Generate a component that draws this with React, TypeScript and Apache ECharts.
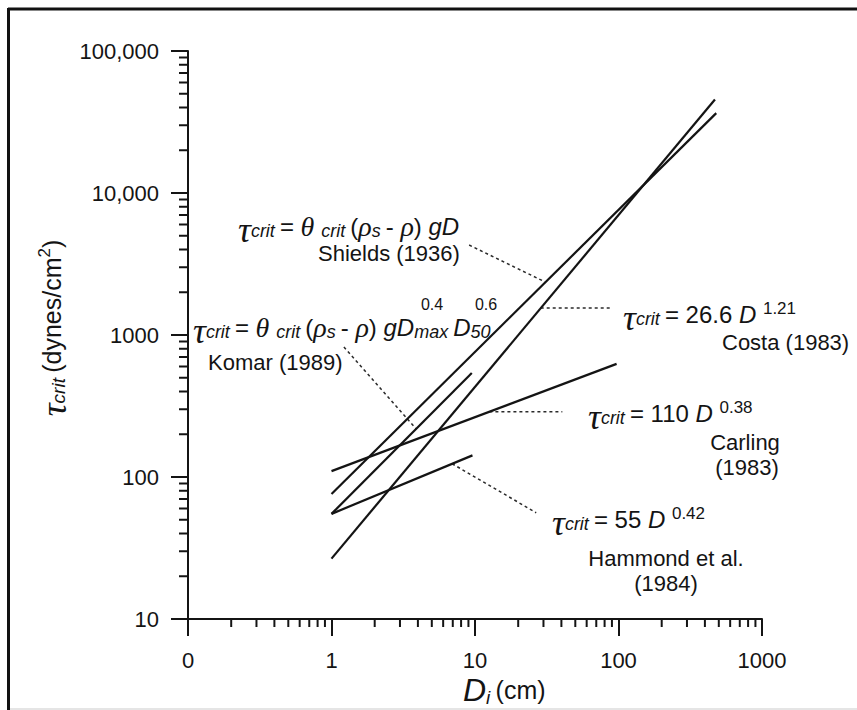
import React, { useEffect, useRef } from 'react';
import * as echarts from 'echarts';

// Axis ranges and tick labels
const X_MIN = 0.1;
const X_MAX = 1000;
const Y_MIN = 10;
const Y_MAX = 100000;
const xTickLabels = ['0', '1', '10', '100', '1000'];
const yTickLabels = ['10', '100', '1000', '10,000', '100,000'];

// Critical shear stress relations (D in cm, tau in dynes/cm^2)
const costaD = [1, 470];
const costaTau = [26.6, 45500];
const shieldsD = [1, 480];
const shieldsTau = [76, 36500];
const komarD = [1, 9.5];
const komarTau = [55, 540];
const hammondD = [1, 9.6];
const hammondTau = [55, 142];
const carlingD = [1, 97];
const carlingTau = [110, 626];

// Leader lines from each relation to its label
const shieldsLeaderD = [9.1, 31];
const shieldsLeaderTau = [4300, 2356];
const costaLeaderD = [28.7, 91];
const costaLeaderTau = [1550, 1550];
const komarLeaderD = [1.22, 3.9];
const komarLeaderTau = [824, 218];
const carlingLeaderD = [12.6, 40.6];
const carlingLeaderTau = [288, 288];
const hammondLeaderD = [6.93, 26.7];
const hammondLeaderTau = [124, 56];

const INK = '#141414';
const SANS = '"Liberation Sans", Arial, Helvetica, sans-serif';
const SERIF = '"Liberation Serif", "Times New Roman", serif';

const pairs = (xs: number[], ys: number[]) => xs.map((x, i) => [x, ys[i]]);

// log-axis minor tick values (2..9 in every decade)
const minorTicks = (lo: number, hi: number) => {
  const out: number[] = [];
  for (let d = lo; d < hi; d *= 10) {
    for (let k = 2; k <= 9; k++) out.push(+(d * k).toPrecision(6));
  }
  return out;
};
const xMinor = minorTicks(X_MIN, X_MAX);
const yMinor = minorTicks(Y_MIN, Y_MAX);

const rich: Record<string, any> = {
  t: { fontFamily: SERIF, fontStyle: 'italic', fontSize: 36, lineHeight: 22, verticalAlign: 'top', fill: INK },
  g: { fontFamily: SERIF, fontStyle: 'italic', fontSize: 28, lineHeight: 28, fill: INK },
  m: { fontFamily: SANS, fontSize: 24, lineHeight: 28, fill: INK },
  mi: { fontFamily: SANS, fontStyle: 'italic', fontSize: 24, lineHeight: 28, fill: INK },
  sb: { fontFamily: SANS, fontStyle: 'italic', fontSize: 18, lineHeight: 15, verticalAlign: 'bottom', fill: INK },
  sp: { fontFamily: SANS, fontSize: 17, lineHeight: 18, verticalAlign: 'top', fill: INK },
};

type Tok = [string, string];
const rt = (toks: Tok[]) => toks.map(([s, t]) => `{${s}|${t}}`).join('');

const eqText = (x: number, y: number, toks: Tok[]) => ({
  type: 'text',
  x,
  y,
  silent: true,
  style: {
    text: rt(toks),
    rich,
    align: 'left',
    textAlign: 'left',
    verticalAlign: 'middle',
    textVerticalAlign: 'middle',
  },
});

const plainText = (x: number, y: number, text: string, align: string, size = 22) => ({
  type: 'text',
  x,
  y,
  silent: true,
  style: {
    text,
    fill: INK,
    fontFamily: SANS,
    fontSize: size,
    align,
    textAlign: align,
    verticalAlign: 'middle',
    textVerticalAlign: 'middle',
  },
});

const curve = (name: string, xs: number[], ys: number[]) => ({
  name,
  type: 'line',
  data: pairs(xs, ys),
  symbol: 'none',
  silent: true,
  lineStyle: { color: INK, width: 2.2 },
  z: 3,
});

const leader = (name: string, xs: number[], ys: number[]) => ({
  name,
  type: 'line',
  data: pairs(xs, ys),
  symbol: 'none',
  silent: true,
  lineStyle: { color: '#2a2a2a', width: 1.5, type: [3, 3] },
  z: 2,
});

export default function App() {
  const ref = useRef<HTMLDivElement>(null);

  useEffect(() => {
    if (!ref.current) return;
    const chart = echarts.init(ref.current, null, { renderer: 'svg' });

    const option: any = {
      animation: false,
      backgroundColor: '#ffffff',
      grid: { left: 188, top: 51, width: 574, height: 568, containLabel: false },
      xAxis: {
        type: 'log',
        logBase: 10,
        min: X_MIN,
        max: X_MAX,
        splitNumber: 4,
        axisLine: { show: true, lineStyle: { color: INK, width: 2 } },
        axisTick: { show: true, inside: false, length: 17, lineStyle: { color: INK, width: 2 } },
        axisLabel: {
          show: true,
          margin: 30,
          fontSize: 22,
          fontFamily: SANS,
          color: INK,
          showMinLabel: true,
          showMaxLabel: true,
          formatter: (v: number) => xTickLabels[Math.round(Math.log10(v)) + 1] ?? '',
        },
        splitLine: { show: false },
      },
      yAxis: {
        type: 'log',
        logBase: 10,
        min: Y_MIN,
        max: Y_MAX,
        splitNumber: 4,
        axisLine: { show: true, lineStyle: { color: INK, width: 2 } },
        axisTick: { show: true, inside: false, length: 17, lineStyle: { color: INK, width: 2 } },
        axisLabel: {
          show: true,
          margin: 29,
          fontSize: 22,
          fontFamily: SANS,
          color: INK,
          showMinLabel: true,
          showMaxLabel: true,
          formatter: (v: number) => yTickLabels[Math.round(Math.log10(v)) - 1] ?? '',
        },
        splitLine: { show: false },
      },
      series: [
        curve('Costa (1983)', costaD, costaTau),
        curve('Shields (1936)', shieldsD, shieldsTau),
        curve('Komar (1989)', komarD, komarTau),
        curve('Hammond et al. (1984)', hammondD, hammondTau),
        curve('Carling (1983)', carlingD, carlingTau),
        leader('Shields label', shieldsLeaderD, shieldsLeaderTau),
        leader('Costa label', costaLeaderD, costaLeaderTau),
        leader('Komar label', komarLeaderD, komarLeaderTau),
        leader('Carling label', carlingLeaderD, carlingLeaderTau),
        leader('Hammond label', hammondLeaderD, hammondLeaderTau),
        {
          name: 'x minor ticks',
          type: 'custom',
          silent: true,
          clip: false,
          data: xMinor.map((v) => [v, Y_MIN]),
          renderItem: (_p: any, api: any) => {
            const pt = api.coord([api.value(0), Y_MIN]);
            return {
              type: 'line',
              shape: { x1: pt[0], y1: pt[1], x2: pt[0], y2: pt[1] + 8 },
              style: { stroke: INK, lineWidth: 2 },
            };
          },
        },
        {
          name: 'y minor ticks',
          type: 'custom',
          silent: true,
          clip: false,
          data: yMinor.map((v) => [X_MIN, v]),
          renderItem: (_p: any, api: any) => {
            const pt = api.coord([X_MIN, api.value(1)]);
            return {
              type: 'line',
              shape: { x1: pt[0] - 9, y1: pt[1], x2: pt[0], y2: pt[1] },
              style: { stroke: INK, lineWidth: 2 },
            };
          },
        },
      ],
      graphic: [
        // figure frame
        { type: 'line', silent: true, shape: { x1: 8, y1: 9, x2: 857, y2: 9 }, style: { stroke: '#111', lineWidth: 3 } },
        { type: 'line', silent: true, shape: { x1: 8.5, y1: 8, x2: 8.5, y2: 710 }, style: { stroke: '#111', lineWidth: 3 } },
        { type: 'line', silent: true, shape: { x1: 10, y1: 709, x2: 857, y2: 709 }, style: { stroke: '#dcdcdc', lineWidth: 1.5 } },

        // Shields
        eqText(238, 226, [
          ['t', 'τ'], ['sb', 'crit '], ['m', '= '], ['g', 'θ '], ['sb', 'crit '], ['m', '('], ['g', 'ρ'], ['sb', 's '],
          ['m', '- '], ['g', 'ρ'], ['m', ') '], ['mi', 'gD'],
        ]),
        plainText(318, 253, 'Shields (1936)', 'left'),

        // Komar
        eqText(193, 327, [
          ['t', 'τ'], ['sb', 'crit '], ['m', '= '], ['g', 'θ '], ['sb', 'crit '], ['m', '('], ['g', 'ρ'], ['sb', 's '],
          ['m', '- '], ['g', 'ρ'], ['m', ') '], ['mi', 'gD'], ['sb', 'max '], ['mi', 'D'], ['sb', '50'],
        ]),
        plainText(432, 304, '0.4', 'center', 16),
        plainText(486, 304, '0.6', 'center', 16),
        plainText(208, 362, 'Komar (1989)', 'left'),

        // Costa
        eqText(623, 314, [['t', 'τ'], ['sb', 'crit '], ['m', '= 26.6 '], ['mi', 'D '], ['sp', '1.21']]),
        plainText(722, 342, 'Costa (1983)', 'left'),

        // Carling
        eqText(588, 413, [['t', 'τ'], ['sb', 'crit '], ['m', '= 110 '], ['mi', 'D '], ['sp', '0.38']]),
        plainText(745, 442, 'Carling', 'center'),
        plainText(747, 467, '(1983)', 'center'),

        // Hammond
        eqText(552, 519, [['t', 'τ'], ['sb', 'crit '], ['m', '= 55 '], ['mi', 'D '], ['sp', '0.42']]),
        plainText(666, 558, 'Hammond et al.', 'center'),
        plainText(666, 583, '(1984)', 'center'),

        // axis titles
        {
          type: 'text',
          x: 52,
          y: 328,
          rotation: Math.PI / 2,
          silent: true,
          style: {
            text: rt([['yt', 'τ'], ['ys', 'crit '], ['ym', '(dynes/cm'], ['yp', '2'], ['ym', ')']]),
            rich: {
              yt: { fontFamily: SERIF, fontStyle: 'italic', fontSize: 36, lineHeight: 26, verticalAlign: 'top', fill: INK },
              ys: { fontFamily: SANS, fontStyle: 'italic', fontSize: 19, lineHeight: 19, verticalAlign: 'bottom', fill: INK },
              ym: { fontFamily: SANS, fontSize: 25, lineHeight: 32, fill: INK },
              yp: { fontFamily: SANS, fontSize: 17, lineHeight: 22, verticalAlign: 'top', fill: INK },
            },
            align: 'center',
            textAlign: 'center',
            verticalAlign: 'middle',
            textVerticalAlign: 'middle',
          },
        },
        {
          type: 'text',
          x: 463,
          y: 690,
          silent: true,
          style: {
            text: rt([['xd', 'D'], ['xs', 'i '], ['xm', '(cm)']]),
            rich: {
              xd: { fontFamily: SANS, fontStyle: 'italic', fontSize: 32, lineHeight: 34, fill: INK },
              xs: { fontFamily: SANS, fontStyle: 'italic', fontSize: 19, lineHeight: 19, verticalAlign: 'bottom', fill: INK },
              xm: { fontFamily: SANS, fontSize: 25, lineHeight: 34, fill: INK },
            },
            align: 'left',
            textAlign: 'left',
            verticalAlign: 'middle',
            textVerticalAlign: 'middle',
          },
        },
      ],
    };

    chart.setOption(option);
    return () => chart.dispose();
  }, []);

  return (
    <div
      ref={ref}
      style={{ position: 'fixed', left: 0, top: 0, width: 857, height: 710, background: '#ffffff' }}
    />
  );
}
